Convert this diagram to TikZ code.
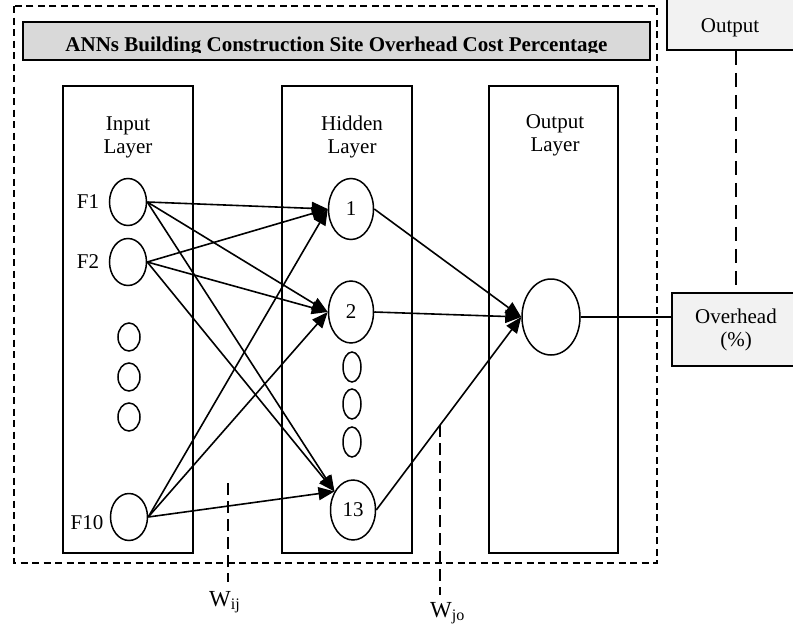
\documentclass[tikz,border=0pt]{standalone}
\usepackage{fontspec}
\setmainfont{Liberation Serif}
\usetikzlibrary{shapes.geometric,arrows.meta}
\begin{document}
\begin{tikzpicture}[x=1pt,y=-1pt,
  txt/.style={font=\fontsize{21}{23}\selectfont, inner sep=0pt, align=center},
  layerbox/.style={draw, line width=1.8pt, minimum width=130pt, minimum height=467pt, inner sep=0pt},
  neuron/.style={draw, ellipse, line width=1.5pt, inner sep=0pt, font=\fontsize{21}{23}\selectfont},
  inneuron/.style={neuron, minimum width=37pt, minimum height=47pt},
  dotneuron/.style={neuron, minimum width=22pt, minimum height=28pt},
  hidneuron/.style={neuron, minimum width=45pt, minimum height=61pt},
  hdotneuron/.style={neuron, minimum width=18pt, minimum height=30pt},
  conn/.style={line width=1.6pt, -{Triangle[length=16pt,width=13pt]}},
  plainline/.style={line width=1.6pt},
  outerdash/.style={line width=1.2pt, dash pattern=on 7pt off 4.5pt},
  longdash/.style={line width=1.5pt, dash pattern=on 14pt off 8pt},
  wdash/.style={line width=1.3pt, dash pattern=on 12pt off 6pt},
  greybox/.style={draw, line width=1.5pt, fill=gray!10, inner sep=0pt, font=\fontsize{21}{23}\selectfont, align=center},
]
\useasboundingbox (0,0) rectangle (793,627);
\fill[white] (0,0) rectangle (793,627);

% outer dashed frame
\draw[outerdash] (14,6) rectangle (657,563);

% title bar
\draw[line width=1.8pt, fill=gray!30] (23,22) rectangle (650,60);
\begin{scope}
  \clip (23,22) rectangle (650,52);
  \node[font=\bfseries\fontsize{21}{24}\selectfont, inner sep=0pt, anchor=base] (title) at (336.5,51) {ANNs Building Construction Site Overhead Cost Percentage};
\end{scope}

% right-hand boxes
\node[greybox, minimum width=128pt, minimum height=56pt] (outbox) at (731,22) {};
\node[txt] (outtxt) at (730,28) {Output};
\node[greybox, minimum width=128pt, minimum height=73pt] (ovh) at (736,329.5) {Overhead\\(\%)};
\draw[longdash] (outbox.south -| ovh.north) -- (ovh.north);

% layer boxes
\node[layerbox] (inlayer) at (128,319.5) {};
\node[layerbox] (hidlayer) at (347,319.5) {};
\node[layerbox, minimum width=129pt] (outlayer) at (553.5,319.5) {};

\node[txt] (inlab) at (128,137) {Input\\Layer};
\node[txt] (hidlab) at (352,137) {Hidden\\Layer};
\node[txt] (outlab) at (555,135.5) {Output\\Layer};

% input neurons
\node[inneuron] (f1) at (128,202) {};
\node[inneuron] (f2) at (128,262) {};
\node[dotneuron] (d1) at (129,337) {};
\node[dotneuron] (d2) at (129,377) {};
\node[dotneuron] (d3) at (129,417) {};
\node[inneuron] (f10) at (129,517) {};
\node[txt] (lf1) at (88,202) {F1};
\node[txt] (lf2) at (88,262) {F2};
\node[txt] (lf10) at (87,523) {F10};

% hidden neurons
\node[hidneuron] (h1) at (351,209) {1};
\node[hidneuron, minimum height=62pt] (h2) at (351,312) {2};
\node[hdotneuron] (e1) at (352,367) {};
\node[hdotneuron] (e2) at (352,404) {};
\node[hdotneuron] (e3) at (352,442) {};
\node[hidneuron, minimum height=60pt] (h13) at (353,510) {13};

% output neuron
\node[neuron, minimum width=58pt, minimum height=76pt] (out) at (551,317) {};

% connections input -> hidden
\foreach \s in {f1,f2,f10}{
  \draw[conn] (\s.east) -- (h1.west);
  \draw[conn] (\s.east) -- (h2.west);
  \draw[conn] (\s.east) -- (h13.135);
}
% hidden -> output
\draw[conn] (h1.east) -- (out.west);
\draw[conn] (h2.east) -- (out.west);
\draw[conn] (h13.east) -- (out.west);
% output -> overhead
\draw[plainline] (out.east) -- (out.east -| ovh.west);

% weight markers
\coordinate (wijtop) at (228,483);
\coordinate (wijbot) at (228,582);
\draw[wdash] (wijtop) -- (wijbot);
\node[font=\fontsize{23}{25}\selectfont, inner sep=0pt, anchor=base west] (wij) at (209,606) {W\textsubscript{ij}};
\coordinate (wjotop) at (440,425);
\coordinate (wjobot) at (440,595);
\draw[wdash] (wjotop) -- (wjobot);
\node[font=\fontsize{23}{25}\selectfont, inner sep=0pt, anchor=base west] (wjo) at (430,617) {W\textsubscript{jo}};
\end{tikzpicture}
\end{document}
